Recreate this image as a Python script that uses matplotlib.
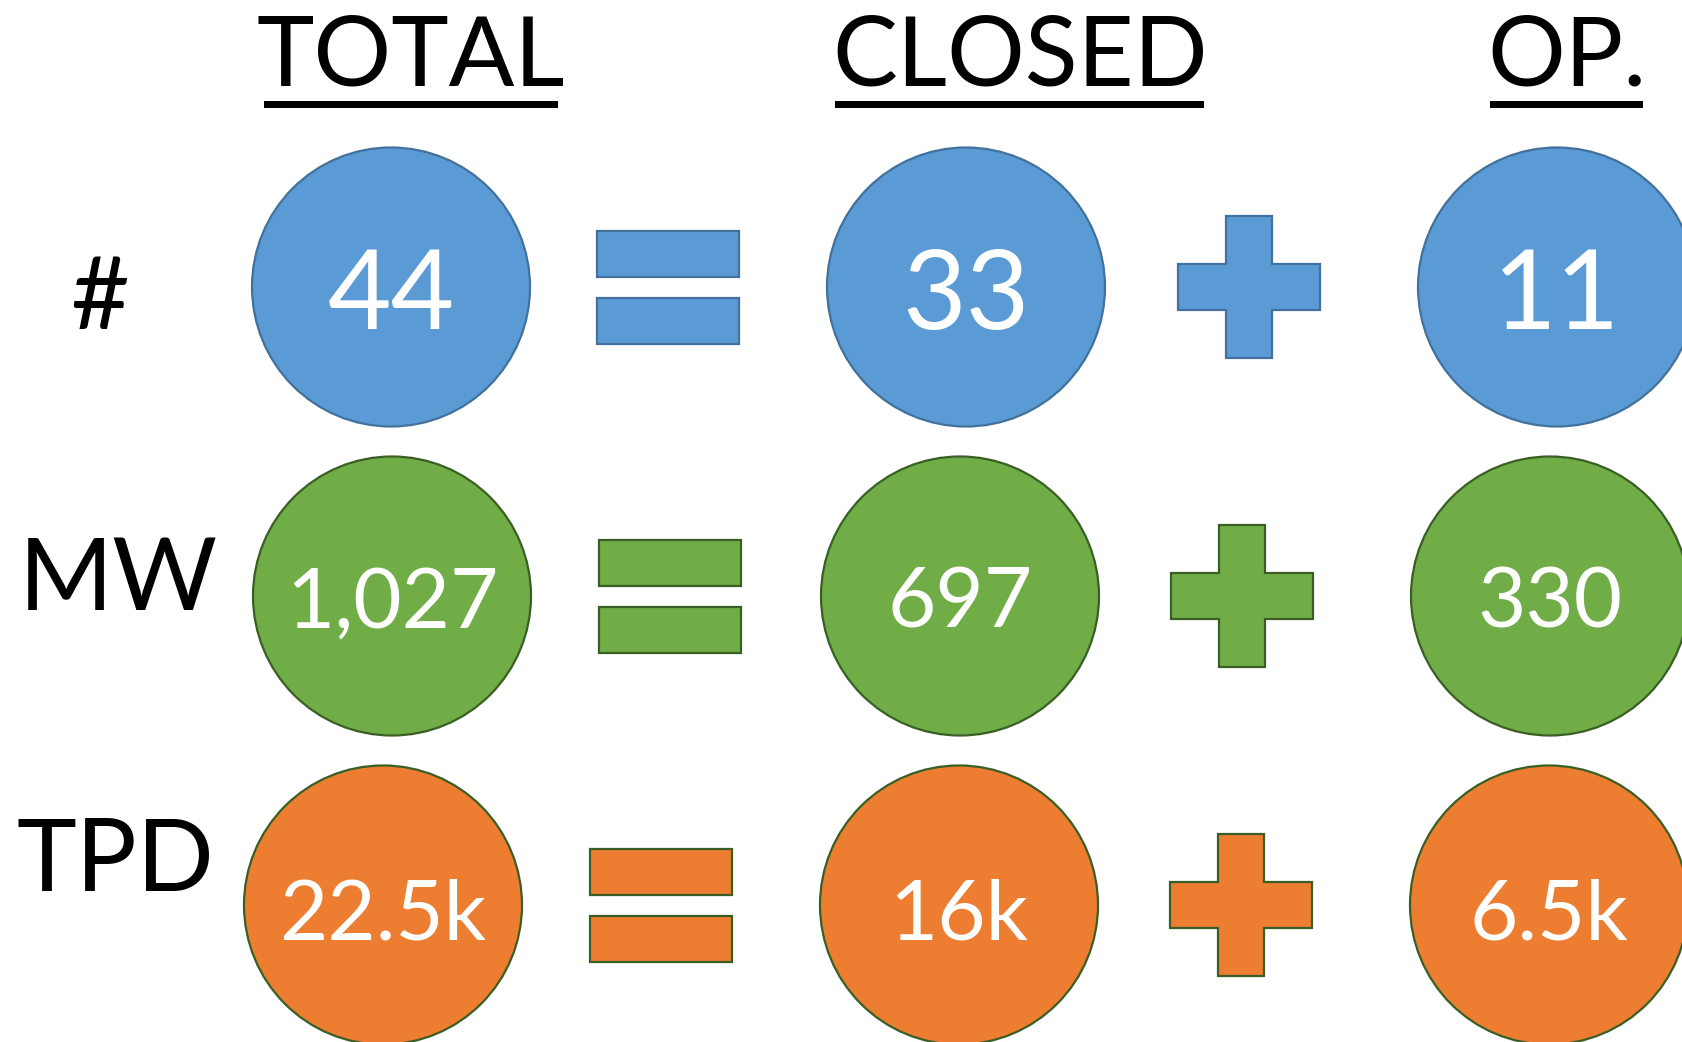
import matplotlib
matplotlib.use("Agg")
import matplotlib.pyplot as plt
from matplotlib.patches import Ellipse, Rectangle, Polygon

plt.rcParams['font.family'] = ['Lato', 'DejaVu Sans']

# ---- data ----
headers = ["TOTAL", "CLOSED", "OP."]
row_labels = ["#", "MW", "TPD"]
total_vals = ["44", "1,027", "22.5k"]
closed_vals = ["33", "697", "16k"]
open_vals = ["11", "330", "6.5k"]
row_colors = ["#5B9BD5", "#70AD47", "#ED7D31"]
edge_colors = ["#41719C", "#3A5F24", "#3A5F24"]

# ---- layout (pixel coordinates of a 1683x1042 canvas) ----
W, H = 1683, 1042
fig = plt.figure(figsize=(W / 100, H / 100), dpi=100)
ax = fig.add_axes([0, 0, 1, 1])
ax.set_xlim(0, W)
ax.set_ylim(H, 0)
ax.axis("off")

row_y = [287, 596, 905]
col_x = [[391, 966, 1557], [392, 960, 1550], [383, 959, 1549]]
eq_x = [668, 670, 661]
plus_x = [1249, 1242, 1241]
R = 139
num_size = [79, 60, 60]
num_base = [42, 32, 34]

# headers
head_x = [411, 1020, 1567]
ul = [(264, 558), (835, 1204), (1490, 1643)]
for h, hx, (x0, x1) in zip(headers, head_x, ul):
    ax.text(hx, 86, h, ha="center", va="baseline", fontsize=70, color="black")
    ax.add_patch(Rectangle((x0, 101), x1 - x0, 7, color="black", lw=0))

# row labels
label_x = [100, 19, 17]
label_ha = ["center", "left", "left"]
label_base = [329, 610, 891]
for i, lab in enumerate(row_labels):
    ax.text(label_x[i], label_base[i], lab, ha=label_ha[i], va="baseline",
            fontsize=73, color="black")

for i in range(3):
    cy = row_y[i]
    fc, ec = row_colors[i], edge_colors[i]
    vals = [total_vals[i], closed_vals[i], open_vals[i]]
    for cx, v in zip(col_x[i], vals):
        ax.add_patch(Ellipse((cx, cy), 2 * R, 2 * R + 1, facecolor=fc, edgecolor=ec, lw=1.6))
        ax.text(cx, cy + num_base[i], v, ha="center", va="baseline",
                fontsize=num_size[i], color="white")
    # equals sign
    ex = eq_x[i]
    bw, bh, gap = 142, 46, 21
    for top in (cy - gap / 2 - bh, cy + gap / 2):
        ax.add_patch(Rectangle((ex - bw / 2, top), bw, bh, facecolor=fc, edgecolor=ec, lw=1.6))
    # plus sign
    px = plus_x[i]
    a, h2 = 23, 71
    pts = [(px - a, cy - h2), (px + a, cy - h2), (px + a, cy - a), (px + h2, cy - a),
           (px + h2, cy + a), (px + a, cy + a), (px + a, cy + h2), (px - a, cy + h2),
           (px - a, cy + a), (px - h2, cy + a), (px - h2, cy - a), (px - a, cy - a)]
    ax.add_patch(Polygon(pts, closed=True, facecolor=fc, edgecolor=ec, lw=1.6))

fig.savefig("out.png", dpi=100, facecolor="white")
